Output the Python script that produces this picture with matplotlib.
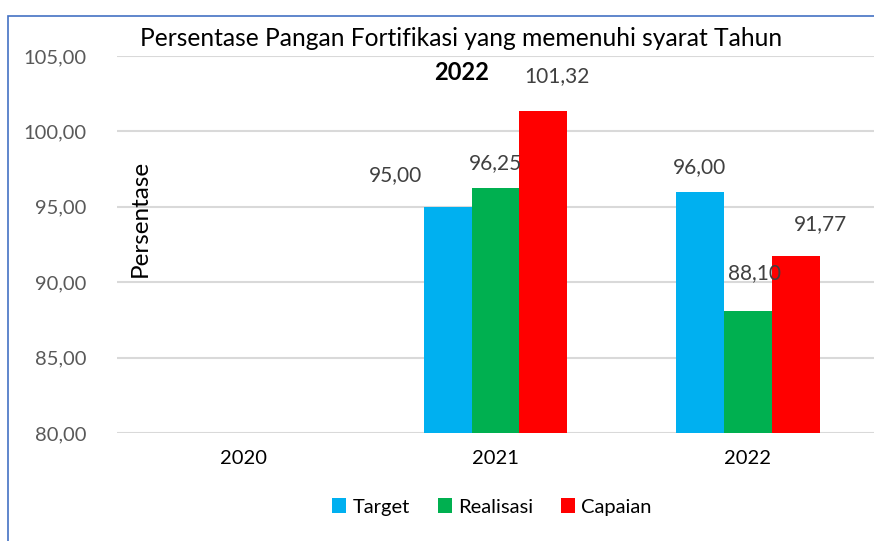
import matplotlib.pyplot as plt
import numpy as np
from matplotlib.patches import Rectangle, Patch

years = ["2020", "2021", "2022"]
target = [np.nan, 95.00, 96.00]
realisasi = [np.nan, 96.25, 88.10]
capaian = [np.nan, 101.32, 91.77]
series_names = ["Target", "Realisasi", "Capaian"]
colors = ["#00B0F0", "#00B050", "#FF0000"]

# label offsets (px) per series / year, mimicking the Excel placement
label_offsets = {
    "Target": [(0, 0), (-52, 32), (0, 25)],
    "Realisasi": [(0, 0), (0, 25), (7, 38)],
    "Capaian": [(0, 0), (14, 35), (25, 31)],
}

plt.rcParams["font.family"] = ["Lato", "DejaVu Sans"]

fig = plt.figure(figsize=(8.74, 5.41), dpi=100)
ax = fig.add_axes([117 / 874, 108 / 541, 757 / 874, 377 / 541])

x = np.arange(len(years))
width = 0.19
px2pt = 0.72

for i, (name, vals, col) in enumerate(zip(series_names, [target, realisasi, capaian], colors)):
    xs = x + (i - 1) * width
    ax.bar(xs, np.nan_to_num(vals, nan=0.0), width=width, color=col, zorder=2)
    for xi, v, (dx, dy) in zip(xs, vals, label_offsets[name]):
        if np.isnan(v):
            continue
        ax.annotate(f"{v:.2f}".replace(".", ","), (xi, v),
                    xytext=(dx * px2pt, dy * px2pt), textcoords="offset points",
                    ha="center", va="center", fontsize=15, color="#404040")

ax.set_xlim(-0.5, 2.5)
ax.set_ylim(80, 105)
ax.set_yticks(np.arange(80, 106, 5))
ax.set_yticklabels([f"{t:.2f}".replace(".", ",") for t in np.arange(80, 106, 5)])
ax.set_xticks(x)
ax.set_xticklabels(years)
ax.tick_params(axis="y", length=0, pad=22, labelsize=14.5, labelcolor="#595959")
ax.tick_params(axis="x", length=0, pad=12, labelsize=14.5, labelcolor="#000000")
ax.grid(axis="y", color="#D9D9D9", linewidth=1.5, zorder=0)
for s in ax.spines.values():
    s.set_visible(False)

fig.text(140 / 874, 1 - 218 / 541, "Persentase", rotation=90, ha="center", va="center",
         fontsize=17.5, color="black")

fig.text(461 / 874, 1 - 38 / 541, "Persentase Pangan Fortifikasi yang memenuhi syarat Tahun",
         ha="center", va="center", fontsize=17.7, color="black")
fig.text(462 / 874, 1 - 72 / 541, "2022", ha="center", va="center", fontsize=17,
         fontweight="bold", color="black")

handles = [Patch(facecolor=c, label=n) for n, c in zip(series_names, colors)]
fig.legend(handles=handles, loc="center", bbox_to_anchor=(492 / 874, 1 - 507 / 541), ncol=3,
           frameon=False, fontsize=14.5, handlelength=0.7, handleheight=0.7,
           handletextpad=0.3, columnspacing=1.4)

# chart-area border: only the left and top edges fall inside the image
fig.patches.append(Rectangle((8 / 874, -0.5), 2.0, 0.5 + (541 - 16) / 541,
                             transform=fig.transFigure, fill=False, edgecolor="#4472C4",
                             linewidth=1.2, clip_on=False))

fig.savefig("out.png", dpi=100)
